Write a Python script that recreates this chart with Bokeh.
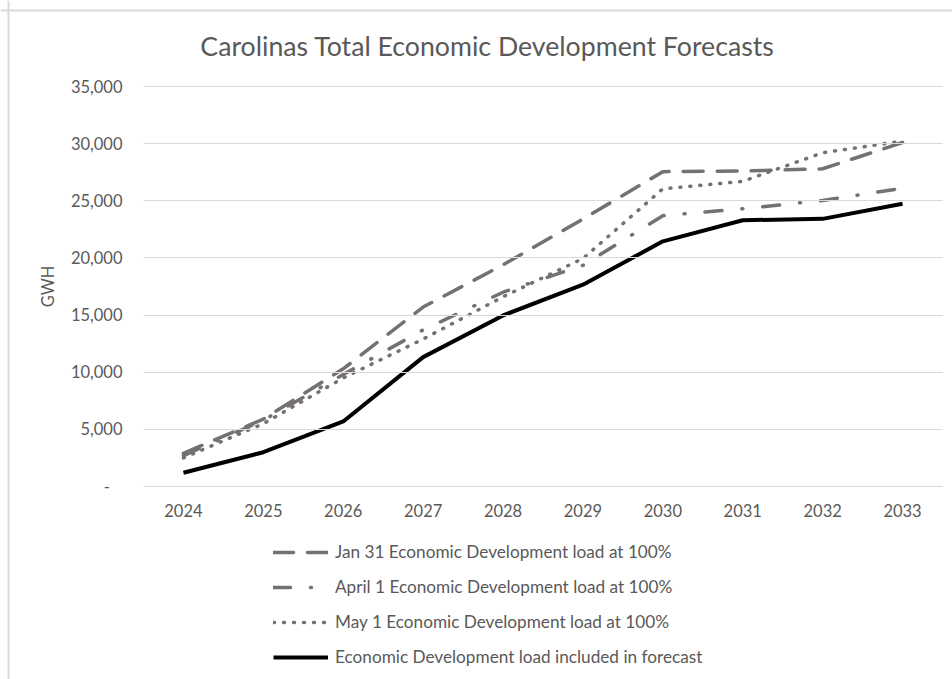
from bokeh.plotting import figure
from bokeh.models import (Range1d, FixedTicker, NumeralTickFormatter, BasicTickFormatter,
                          Legend, LegendItem, ColumnDataSource, Label, Span)
from bokeh.embed import file_html
from bokeh.resources import INLINE

# ---- data ----
years = [2024, 2025, 2026, 2027, 2028, 2029, 2030, 2031, 2032, 2033]
jan31 = [2900, 5900, 10300, 15700, 19400, 23400, 27550, 27600, 27800, 30100]
apr1 = [2700, 5800, 9800, 13700, 17000, 19350, 23700, 24300, 25030, 26100]
may1 = [2500, 5500, 9500, 12900, 16600, 19950, 26050, 26700, 29200, 30230]
included = [1200, 3000, 5690, 11320, 14970, 17660, 21450, 23300, 23420, 24740]
series_labels = [
    "Jan 31 Economic Development load at 100%",
    "April 1 Economic Development load at 100%",
    "May 1 Economic Development load at 100%",
    "Economic Development load included in forecast",
]
y_ticks = [0, 5000, 10000, 15000, 20000, 25000, 30000, 35000]
title_text = "Carolinas Total Economic Development Forecasts"
y_label = "GWH"

# ---- layout / style ----
W, H = 952, 679
FONT = "Lato"
TXT = "#595959"
GRAY = "#767171"
GRID = "#d9d9d9"

# plot area (pixels) inside the canvas
AREA_L, AREA_R, AREA_T, AREA_B = 143, 942, 86, 486
slot = (AREA_R - AREA_L) / len(years)
px_per_year = slot
px_per_unit = (AREA_B - AREA_T) / y_ticks[-1]
first_center = AREA_L + slot / 2
x_start = years[0] - first_center / px_per_year
x_end = years[0] + (W - first_center) / px_per_year
y_end = y_ticks[-1] + AREA_T / px_per_unit
y_start = -(H - AREA_B) / px_per_unit

src = ColumnDataSource(dict(year=years, jan31=jan31, apr1=apr1, may1=may1, included=included))

p = figure(
    x_range=Range1d(x_start, x_end), y_range=Range1d(y_start, y_end),
    width=W, height=H,
    output_backend="svg", toolbar_location=None,
    min_border=0, min_border_left=0, min_border_right=0, min_border_top=0, min_border_bottom=0,
)
p.outline_line_color = None
p.background_fill_color = "white"
p.border_fill_color = "white"
p.xgrid.visible = False
p.ygrid.visible = False

# chart-area border (left and top edges visible in the crop)
p.add_layout(Span(location=8, location_units="screen", dimension="height",
                  line_color=GRID, line_width=2))
p.add_layout(Span(location=H - 10, location_units="screen", dimension="width",
                  line_color=GRID, line_width=2))

# title
p.add_layout(Label(x=487, y=H - 45, x_units="screen", y_units="screen", text=title_text,
                   text_align="center", text_baseline="alphabetic",
                   text_font=FONT, text_font_size="26.7px", text_color=TXT))

half = 0.5
# y axis (tick lines drawn inward act as horizontal gridlines)
ya = p.yaxis[0]
ya.fixed_location = years[0] - half
ya.bounds = (y_ticks[0], y_ticks[-1])
ya.ticker = FixedTicker(ticks=y_ticks)
ya.formatter = NumeralTickFormatter(format="0,0")
ya.major_label_overrides = {0: "-\u00a0\u00a0\u00a0"}
ya.axis_line_color = None
ya.major_tick_in = AREA_R - AREA_L
ya.major_tick_out = 0
ya.major_tick_line_color = GRID
ya.major_tick_line_width = 1
ya.minor_tick_line_color = None
ya.major_label_standoff = 21
ya.axis_label = y_label
ya.axis_label_standoff = 10
ya.axis_label_text_font_style = "normal"

# x axis
xa = p.xaxis[0]
xa.fixed_location = 0
xa.bounds = (years[0] - half, years[-1] + half)
xa.ticker = FixedTicker(ticks=years)
xa.formatter = BasicTickFormatter(use_scientific=False)
xa.axis_line_color = GRID
xa.axis_line_width = 1
xa.major_tick_line_color = None
xa.minor_tick_line_color = None
xa.major_tick_in = 0
xa.major_tick_out = 0
xa.major_label_standoff = 17

for ax in (xa, ya):
    ax.major_label_text_font = FONT
    ax.major_label_text_font_size = "16.5px"
    ax.major_label_text_color = TXT
    ax.axis_label_text_font = FONT
    ax.axis_label_text_font_size = "16.5px"
    ax.axis_label_text_color = TXT

r1 = p.line("year", "jan31", source=src, line_color=GRAY, line_width=3.5,
            line_dash="20 14", line_cap="round")
r2 = p.line("year", "apr1", source=src, line_color=GRAY, line_width=3.5,
            line_dash="17 20 1 20", line_cap="round")
r3 = p.line("year", "may1", source=src, line_color=GRAY, line_width=3.5,
            line_dash="1 9", line_cap="round")
r4 = p.line("year", "included", source=src, line_color="black", line_width=4)

legend = Legend(
    items=[LegendItem(label=lbl, renderers=[r]) for lbl, r in zip(series_labels, [r1, r2, r3, r4])],
    location=(273, H - 667), orientation="vertical",
    padding=0, margin=0, spacing=14,
    glyph_width=55, glyph_height=20, label_height=20, label_standoff=7,
    border_line_color=None, background_fill_alpha=0,
    label_text_font=FONT, label_text_font_size="17.2px", label_text_color=TXT,
)
p.add_layout(legend, "center")

open("out.html", "w").write(file_html(p, INLINE))
